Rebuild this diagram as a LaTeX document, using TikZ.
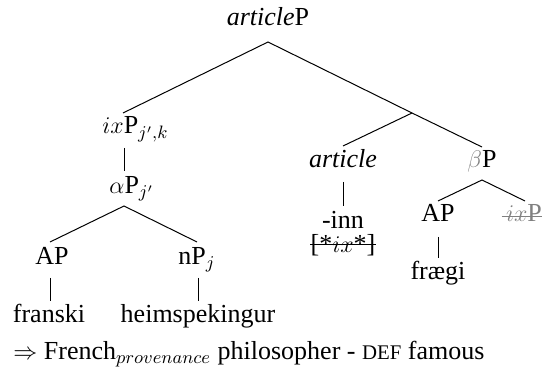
\documentclass[tikz,border=0pt]{standalone}
\usepackage{fontspec}
\setmainfont{Liberation Serif}
\begin{document}
\begin{tikzpicture}[x=0.5pt,y=-0.5pt,
  lbl/.style={inner sep=0pt,anchor=base,font=\fontsize{13}{15}\selectfont},
  lblw/.style={inner sep=0pt,anchor=base west,font=\fontsize{13}{15}\selectfont},
  edge/.style={line width=0.5pt},
  strike/.style={line width=0.5pt}]
\useasboundingbox (0,0) rectangle (551,373);
% labels
\node[lbl] (root) at (268,26) {\textit{article}P};
\node[lblw] (ixp) at (102,134) {$ix$P\rlap{$_{j',k}$}};
\node[lblw] (alp) at (109,194) {$\alpha$P\rlap{$_{j'}$}};
\node[lbl] (apa) at (52,265) {AP};
\node[lblw] (np) at (178,265) {nP$_j$};
\node[lbl] (fr) at (49,323) {franski};
\node[lbl] (hs) at (198,323) {heimspekingur};
\node[lbl] (art) at (343,168) {\textit{article}};
\node[lbl] (inn) at (343,229) {-inn};
\node[lbl] (brk) at (343,253) {[*$ix$*]};
\node[lbl] (bp) at (482,168) {\textcolor{gray}{$\beta$}P};
\node[lbl] (apb) at (438,222) {AP};
\node[lbl] (ixq) at (524,222) {\textcolor{gray}{$ix$P}};
\node[lbl] (fg) at (438,280) {frægi};
\node[lblw] (gl) at (13,360) {$\Rightarrow$ French$_{provenance}$ philosopher - {\fontsize{10.4}{12}\selectfont DEF} famous};
% connector end points
\coordinate (rootB) at (268,42);
\coordinate (ixpT) at (123,113);
\coordinate (bar) at (412,113);
\coordinate (ixpB) at (124,148);
\coordinate (alpT) at (124,171);
\coordinate (alpB) at (124,206);
\coordinate (apaT) at (50,242);
\coordinate (npT) at (197,242);
\coordinate (apaB) at (50,278);
\coordinate (frT) at (50,301);
\coordinate (npB) at (198,278);
\coordinate (hsT) at (198,301);
\coordinate (artT) at (343,146);
\coordinate (bpT) at (482,147);
\coordinate (artB) at (343,182);
\coordinate (innT) at (343,206);
\coordinate (bpB) at (482,180);
\coordinate (apbT) at (438,201);
\coordinate (ixqT) at (525,201);
\coordinate (apbB) at (438,237);
\coordinate (fgT) at (438,258);
% edges
\draw[edge] (ixpT) -- (rootB) -- (bar);
\draw[edge] (ixpB) -- (alpT);
\draw[edge] (apaT) -- (alpB) -- (npT);
\draw[edge] (apaB) -- (frT);
\draw[edge] (npB) -- (hsT);
\draw[edge] (artT) -- (bar) -- (bpT);
\draw[edge] (artB) -- (innT);
\draw[edge] (apbT) -- (bpB) -- (ixqT);
\draw[edge] (apbB) -- (fgT);
% strike-throughs
\draw[strike] ([yshift=4pt]brk.base west) -- ([yshift=4pt]brk.base east);
\draw[strike,gray] ([xshift=-2pt,yshift=2.5pt]ixq.base west) -- ([yshift=2.5pt]ixq.base east);
\end{tikzpicture}
\end{document}
